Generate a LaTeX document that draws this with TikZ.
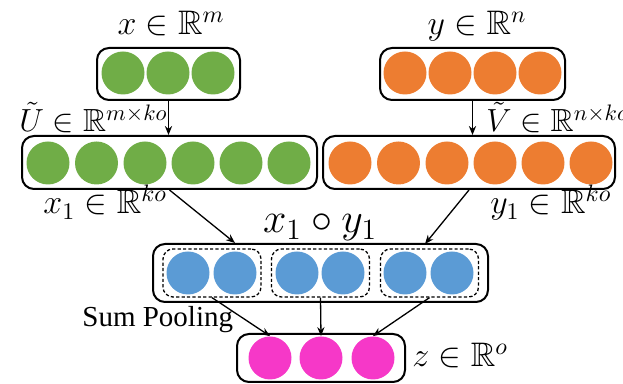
\documentclass[tikz,border=0pt]{standalone}
\usepackage{fix-cm}
\usepackage{amssymb}
\usepackage{fontspec}
\newfontfamily\timesf{Liberation Serif}
\usetikzlibrary{arrows.meta}
\definecolor{cgreen}{RGB}{112,173,71}
\definecolor{corange}{RGB}{237,125,49}
\definecolor{cblue}{RGB}{91,155,213}
\definecolor{cpink}{RGB}{246,56,200}
\begin{document}
\begin{tikzpicture}[x=0.5pt,y=-0.5pt,
  box/.style={draw=black,line width=1pt,rounded corners=6pt,rectangle,inner sep=0pt},
  dbox/.style={draw=black,line width=0.65pt,dash pattern=on 1.6pt off 1.1pt,rounded corners=5pt,rectangle,inner sep=0pt},
  ball/.style={circle,inner sep=0pt,minimum size=21.5pt},
  arr/.style={-{Stealth[length=4.5pt,width=3.6pt]},line width=0.65pt},
  lab/.style={inner sep=0pt,font=\fontsize{17}{20}\selectfont},
  smlab/.style={inner sep=0pt,font=\fontsize{16}{19}\selectfont},
  biglab/.style={inner sep=0pt,font=\fontsize{21}{25}\selectfont},
  txt/.style={inner sep=0pt,font=\timesf\fontsize{14.5}{17}\selectfont}]
\useasboundingbox (0,0) rectangle (623,384);
% boxes
\node[box,minimum width=71.5pt,minimum height=26pt] (xbox) at (168.5,74) {};
\node[box,minimum width=92.5pt,minimum height=26pt] (ybox) at (472.5,74) {};
\node[box,minimum width=147.5pt,minimum height=26.5pt] (x1box) at (169.5,162.5) {};
\node[box,minimum width=146pt,minimum height=26.5pt] (y1box) at (469,162.5) {};
\node[box,minimum width=167.5pt,minimum height=29pt] (pbox) at (320.5,273) {};
\node[dbox,minimum width=49pt,minimum height=24pt] (d1) at (212,273) {};
\node[dbox,minimum width=49pt,minimum height=24pt] (d2) at (320.5,273) {};
\node[dbox,minimum width=49pt,minimum height=24pt] (d3) at (429.5,273) {};
\node[box,minimum width=84pt,minimum height=24pt] (zbox) at (321,358) {};
% circles
\foreach \cx [count=\i] in {123,168,213}
  \node[ball,fill=cgreen] (gx\i) at (\cx,73) {};
\foreach \cx [count=\i] in {405,450,495,540}
  \node[ball,fill=corange] (oy\i) at (\cx,73) {};
\foreach \cx [count=\i] in {48,96.5,145,193,241,289}
  \node[ball,fill=cgreen] (gu\i) at (\cx,163) {};
\foreach \cx [count=\i] in {350,398.5,447,495,543,591}
  \node[ball,fill=corange] (ov\i) at (\cx,163) {};
\foreach \cx [count=\i] in {188,235,297,343,405,452}
  \node[ball,fill=cblue] (b\i) at (\cx,273) {};
\foreach \cx [count=\i] in {270,321,373}
  \node[ball,fill=cpink] (p\i) at (\cx,358) {};
% connectors
\coordinate (yin) at (425,244);
\draw[arr] (xbox.south) -- (xbox.south |- x1box.north);
\draw[arr] (ybox.south) -- (ybox.south |- y1box.north);
\draw[arr] (x1box.south) -- (b2 |- pbox.north);
\draw[arr] (y1box.south) -- (yin);
\draw[arr] (d1.south) -- (p1.north);
\draw[arr] (d2.south) -- (p2.north);
\draw[arr] (d3.south) -- (p3.north);
% labels
\node[lab,anchor=base] (lx) at (171,35) {$x\in\mathbb{R}^m$};
\node[lab,anchor=base] (ly) at (477,35) {$y\in\mathbb{R}^n$};
\node[smlab,anchor=base west] (lu) at (19,132) {$\tilde{U}\in\mathbb{R}^{m\times ko}$};
\node[smlab,anchor=base west] (lv) at (486,132) {$\tilde{V}\in\mathbb{R}^{n\times ko}$};
\node[lab,anchor=base west] (lx1) at (43,214) {$x_1\in\mathbb{R}^{ko}$};
\node[lab,anchor=base west] (ly1) at (490,214) {$y_1\in\mathbb{R}^{ko}$};
\node[biglab,anchor=base] (lxy) at (320,233) {$x_1\circ y_1$};
\node[txt,anchor=base west] (lsum) at (82,327) {Sum Pooling};
\node[lab,anchor=base west] (lz) at (412,367) {$z\in\mathbb{R}^o$};
\end{tikzpicture}
\end{document}
